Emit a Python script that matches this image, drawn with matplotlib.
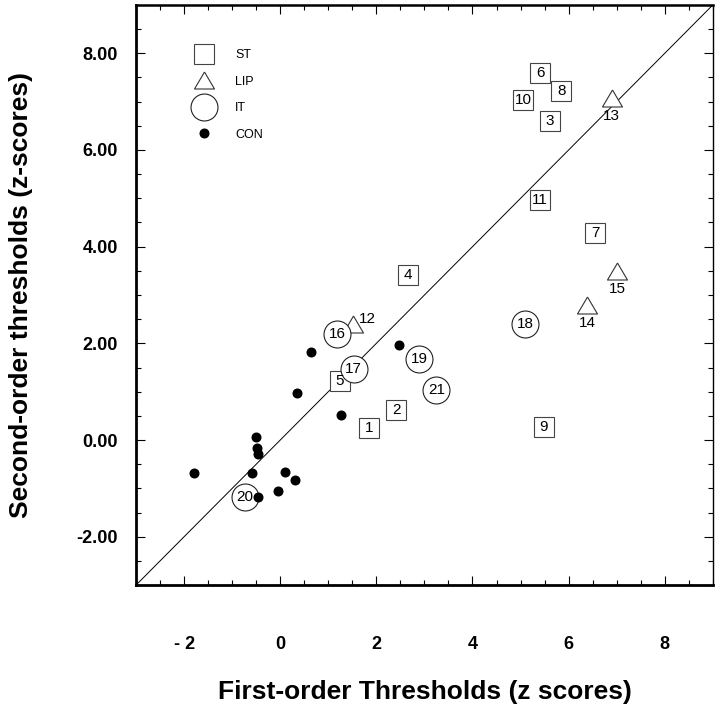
import matplotlib
matplotlib.use('Agg')
import matplotlib.pyplot as plt
from matplotlib.ticker import MultipleLocator, FixedLocator, FixedFormatter

plt.rcParams['font.family'] = ['Liberation Sans', 'DejaVu Sans']

# ST cells (squares)
st_id = ['1', '2', '3', '4', '5', '6', '7', '8', '9', '10', '11']
st_x = [1.84, 2.41, 5.61, 2.66, 1.24, 5.41, 6.55, 5.85, 5.48, 5.05, 5.41]
st_y = [0.25, 0.63, 6.59, 3.41, 1.22, 7.59, 4.28, 7.23, 0.26, 7.03, 4.97]

# LIP cells (triangles)
lip_id = ['12', '13', '14', '15']
lip_x = [1.52, 6.90, 6.38, 7.01]
lip_y = [2.40, 7.07, 2.79, 3.50]

# IT cells (circles)
it_id = ['16', '17', '18', '19', '20', '21']
it_x = [1.19, 1.53, 5.10, 2.89, -0.73, 3.25]
it_y = [2.19, 1.46, 2.39, 1.67, -1.17, 1.03]

# controls
con_x = [0.64, 0.34, 1.26, 2.47, -0.51, -0.49, -0.46, -1.79, -0.58, 0.10, 0.31, -0.04, -0.46]
con_y = [1.83, 0.97, 0.52, 1.96, 0.06, -0.17, -0.29, -0.68, -0.68, -0.66, -0.83, -1.06, -1.17]

x_ticks = [-2, 0, 2, 4, 6, 8]
x_labels = ['- 2', '0', '2', '4', '6', '8']
y_ticks = [-2, 0, 2, 4, 6, 8]
y_labels = ['-2.00', '0.00', '2.00', '4.00', '6.00', '8.00']

tri = [(0, 0.85), (-1, -0.85), (1, -0.85), (0, 0.85)]

fig = plt.figure(figsize=(7.2, 7.1), dpi=100)
ax = fig.add_axes([0.189, 0.176, 0.801, 0.817])

ax.axline((0, 0), slope=1, color='black', lw=0.7, zorder=1)

ax.plot(st_x, st_y, ls='none', marker='s', ms=14.4, mfc='white',
        mec='#444444', mew=0.8, zorder=3, label='ST')
ax.plot(lip_x, lip_y, ls='none', marker=tri, ms=14.4, mfc='white',
        mec='#333333', mew=0.8, zorder=3, label='LIP')
ax.plot(it_x, it_y, ls='none', marker='o', ms=19.4, mfc='white',
        mec='#222222', mew=0.8, zorder=4, label='IT')
ax.plot(con_x, con_y, ls='none', marker='o', ms=6.2, mfc='black',
        mec='black', zorder=5, label='CON')

for xi, yi, s in zip(st_x, st_y, st_id):
    ax.text(xi, yi, s, ha='center', va='center', fontsize=11, zorder=6)
for xi, yi, s in zip(it_x, it_y, it_id):
    ax.text(xi, yi, s, ha='center', va='center', fontsize=11, zorder=6)
for xi, yi, s in zip(lip_x, lip_y, lip_id):
    if s == '12':
        ax.annotate(s, (xi, yi), xytext=(10, 3.5), textcoords='offset points',
                    ha='center', va='center', fontsize=11, zorder=6)
    else:
        ax.annotate(s, (xi, yi), xytext=(0, -13), textcoords='offset points',
                    ha='center', va='center', fontsize=11, zorder=6)

ax.set_xlim(-3, 9)
ax.set_ylim(-3, 9)

ax.xaxis.set_major_locator(FixedLocator(x_ticks))
ax.xaxis.set_major_formatter(FixedFormatter(x_labels))
ax.yaxis.set_major_locator(FixedLocator(y_ticks))
ax.yaxis.set_major_formatter(FixedFormatter(y_labels))
ax.xaxis.set_minor_locator(MultipleLocator(0.5))
ax.yaxis.set_minor_locator(MultipleLocator(0.5))

ax.tick_params(which='both', direction='in', top=True, right=True, width=0.8)
ax.tick_params(which='major', length=6.5)
ax.tick_params(which='minor', length=3.6)
ax.tick_params(axis='x', which='major', pad=37, labelsize=13)
ax.tick_params(axis='y', which='major', pad=13, labelsize=13)
for lab in ax.get_xticklabels() + ax.get_yticklabels():
    lab.set_fontweight('bold')

ax.spines['left'].set_linewidth(2.0)
ax.spines['bottom'].set_linewidth(2.0)
ax.spines['top'].set_linewidth(1.8)
ax.spines['right'].set_linewidth(1.0)

ax.set_xlabel('First-order Thresholds (z scores)', fontsize=19,
              fontweight='bold', labelpad=19)
ax.set_ylabel('Second-order thresholds (z-scores)', fontsize=19,
              fontweight='bold', labelpad=31)

ax.legend(loc='upper left', bbox_to_anchor=(0.096, 0.924), frameon=False,
          fontsize=9, numpoints=1, handlelength=2.0, handletextpad=1.5,
          labelspacing=1.16, borderpad=0, borderaxespad=0)

fig.savefig('out.png', dpi=100)
